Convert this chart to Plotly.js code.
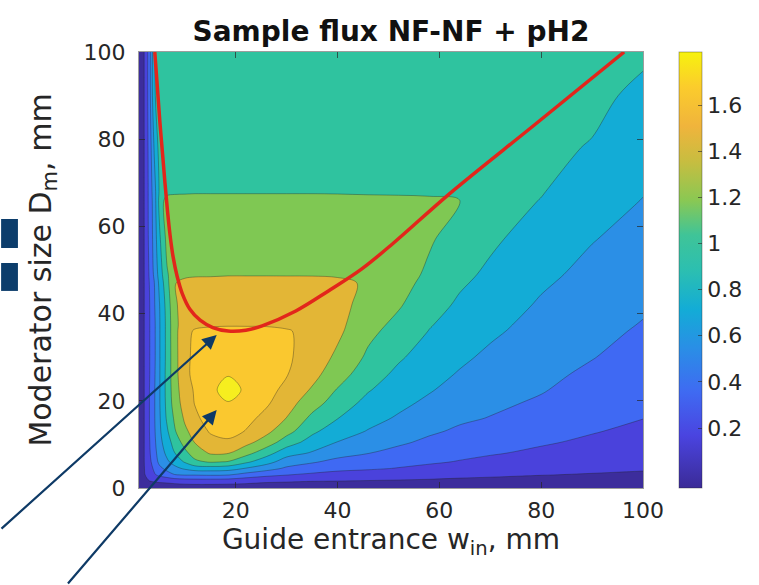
<!DOCTYPE html>
<html>
<head>
<meta charset="utf-8">
<script src="https://cdn.plot.ly/plotly-3.0.1.min.js"></script>
<style>html,body{margin:0;padding:0;background:#fff;}#chart{width:759px;height:585px;}</style>
</head>
<body>
<div id="chart"></div>
<script>
// Guide entrance width w_in (mm) - grid columns
const wIn = [1, 2, 3, 4, 5, 6.5, 8, 10, 12, 15, 18.5, 22, 26, 30, 35, 40, 46, 52, 58, 64, 70, 80, 90, 100];
// Moderator size D_m (mm) - grid rows
const dMod = [0, 1.5, 3, 4.5, 6, 8, 10.5, 13, 16, 19.5, 22.5, 26, 30, 36, 37.4, 42, 47, 49, 57, 66, 68, 78, 90, 100];
// Sample flux values (one row per D_m value)
const flux = [
  [0,0,0,0,0,0,0,0,0,0,0,0,0,0,0,0,0,0,0,0,0,0,0,0],
  [0,.06,.09,.11,.12,.13,.15,.17,.18,.18,.17,.15,.12,.11,.097,.091,.083,.077,.071,.064,.06,.052,.045,.04],
  [0,.08,.18,.28,.34,.41,.49,.51,.51,.52,.51,.42,.35,.305,.26,.23,.204,.179,.158,.134,.121,.103,.091,.081],
  [0,.09,.22,.33,.45,.56,.65,.73,.80,.81,.79,.69,.58,.47,.41,.35,.326,.292,.255,.212,.185,.151,.128,.113],
  [0,.095,.25,.38,.55,.67,.77,.92,1.06,1.12,1.09,.94,.78,.60,.52,.45,.397,.358,.325,.29,.249,.198,.162,.139],
  [0,.095,.27,.42,.60,.74,.895,1.05,1.19,1.32,1.31,1.17,.98,.78,.68,.565,.505,.442,.386,.346,.318,.262,.208,.172],
  [0,.095,.28,.45,.64,.80,.99,1.17,1.31,1.43,1.46,1.36,1.21,1.0,.82,.695,.594,.53,.463,.406,.373,.322,.266,.214],
  [0,.095,.29,.47,.66,.87,1.08,1.26,1.38,1.52,1.58,1.49,1.35,1.17,.94,.79,.689,.597,.527,.472,.427,.364,.312,.256],
  [0,.095,.29,.48,.67,.93,1.13,1.33,1.46,1.58,1.64,1.56,1.44,1.295,1.05,.905,.764,.678,.59,.529,.493,.415,.347,.303],
  [0,.095,.29,.48,.68,.96,1.19,1.39,1.51,1.62,1.69,1.63,1.53,1.38,1.19,1.0,.846,.746,.662,.583,.538,.475,.388,.334],
  [0,.095,.29,.48,.68,.97,1.21,1.42,1.52,1.65,1.78,1.67,1.58,1.44,1.28,1.086,.914,.797,.716,.63,.574,.513,.424,.36],
  [0,.095,.28,.47,.68,.97,1.23,1.44,1.56,1.65,1.69,1.67,1.62,1.51,1.36,1.186,.985,.856,.762,.684,.616,.543,.465,.391],
  [0,.095,.28,.46,.68,.96,1.24,1.43,1.56,1.63,1.66,1.65,1.62,1.53,1.41,1.263,1.066,.924,.815,.734,.664,.577,.507,.426],
  [0,.095,.28,.46,.68,.96,1.25,1.41,1.53,1.58,1.61,1.60,1.58,1.52,1.43,1.34,1.15,1.024,.895,.803,.732,.628,.552,.478],
  [0,.095,.28,.46,.68,.96,1.25,1.39,1.44,1.46,1.47,1.47,1.47,1.46,1.43,1.35,1.17,1.048,.913,.819,.746,.64,.562,.49],
  [0,.095,.28,.48,.69,.98,1.27,1.38,1.42,1.45,1.46,1.46,1.46,1.45,1.43,1.37,1.22,1.12,.975,.871,.795,.679,.596,.525],
  [0,.095,.295,.495,.74,1.04,1.29,1.36,1.37,1.38,1.44,1.44,1.44,1.43,1.42,1.37,1.26,1.17,1.042,.923,.847,.723,.633,.56],
  [0,.095,.31,.54,.78,1.08,1.20,1.25,1.27,1.27,1.27,1.27,1.27,1.27,1.27,1.26,1.23,1.18,1.069,.942,.868,.742,.648,.574],
  [0,.095,.34,.58,.86,1.16,1.22,1.25,1.26,1.26,1.26,1.26,1.26,1.26,1.26,1.26,1.22,1.19,1.12,1.02,.93,.816,.708,.631],
  [0,.095,.35,.60,.95,1.20,1.22,1.24,1.25,1.25,1.25,1.25,1.25,1.25,1.25,1.25,1.20,1.18,1.15,1.10,.98,.895,.782,.695],
  [0,.095,.35,.62,.92,1.01,1.04,1.04,1.05,1.05,1.05,1.05,1.05,1.05,1.05,1.04,1.04,1.04,1.04,1.02,.985,.91,.798,.709],
  [0,.095,.36,.72,.97,1.01,1.03,1.04,1.04,1.04,1.04,1.04,1.04,1.04,1.04,1.03,1.03,1.03,1.03,1.02,.99,.935,.89,.779],
  [0,.095,.38,.88,.98,1.02,1.03,1.03,1.03,1.03,1.03,1.03,1.03,1.03,1.03,1.02,1.02,1.02,1.02,1.01,1.0,.95,.94,.862],
  [0,.095,.38,.88,.99,1.02,1.03,1.03,1.03,1.03,1.03,1.03,1.03,1.03,1.03,1.02,1.01,1.01,1.01,1.0,1.0,.96,.97,.93]
];
// Optimum moderator size curve (red line)
const optW = [4.1, 4.6, 5.1, 5.6, 6.1, 6.6, 7.1, 7.7, 8.5, 9.5, 11.0, 13.0, 15.5, 18.5, 22.0, 25.2, 31.8, 38.2, 44.7, 51.0, 62.2, 78.6, 96.3];
const optD = [100, 92, 84, 77, 70, 63.5, 58, 53, 48.5, 44.6, 41.0, 38.5, 36.8, 36.0, 36.2, 37.2, 40.6, 45.2, 50.2, 56.2, 67.7, 83.2, 100];
// Contour levels
const levelStart = 0.1, levelEnd = 1.7, levelStep = 0.2;
const bandColors = ['#3c2d9c','#4a42dc','#3f69f3','#2b8fe6','#13acd6','#2fc39f','#7fc853','#e3b636','#fac82f','#f6ee1f'];
// Colour bar
const cbarMin = -0.06, cbarMax = 1.83;
const cbarTickVals = [0.2, 0.4, 0.6, 0.8, 1, 1.2, 1.4, 1.6];
const cbarTickText = ['0.2','0.4','0.6','0.8','1','1.2','1.4','1.6'];
const xTickVals = [20, 40, 60, 80, 100];
const yTickVals = [0, 20, 40, 60, 80, 100];

const parula = [[0,'#3b2b97'],[0.12,'#4a44e0'],[0.22,'#3f6af2'],[0.32,'#2a8ee6'],[0.41,'#13acd6'],[0.5,'#2cbfb0'],[0.58,'#3fc498'],[0.66,'#8ac853'],[0.75,'#c8bd40'],[0.83,'#f0b43c'],[0.92,'#fbcc2c'],[1,'#f7f20e']];

const nb = bandColors.length - 1;
const bandScale = bandColors.map((c, k) => [k / nb, c]);

const contourTrace = {
  type: 'contour', x: wIn, y: dMod, z: flux,
  autocontour: false,
  contours: {start: levelStart, end: levelEnd, size: levelStep, coloring: 'fill', showlines: true},
  colorscale: bandScale, showscale: false,
  line: {color: 'rgba(35,35,35,0.45)', width: 0.8, smoothing: 1},
  hoverinfo: 'skip'
};
const redTrace = {
  type: 'scatter', mode: 'lines', x: optW, y: optD,
  line: {color: '#e2261b', width: 3.5, shape: 'spline', smoothing: 1},
  hoverinfo: 'skip', showlegend: false
};
const cbarTrace = {
  type: 'scatter', mode: 'markers', x: [null, null], y: [null, null],
  marker: {color: [cbarMin, cbarMax], cmin: cbarMin, cmax: cbarMax, colorscale: parula, showscale: true,
    colorbar: {x: 1.0709, xanchor: 'left', y: 0.5, yanchor: 'middle', len: 1, lenmode: 'fraction',
      thickness: 23, thicknessmode: 'pixels', xpad: 0, ypad: 0,
      outlinewidth: 0.8, outlinecolor: 'rgba(38,38,38,0.45)',
      tickmode: 'array', tickvals: cbarTickVals, ticktext: cbarTickText,
      ticks: 'inside', ticklen: 4, tickcolor: 'rgba(38,38,38,0.6)',
      tickfont: {size: 22, color: '#262626', family: 'DejaVu Sans'}}},
  hoverinfo: 'skip', showlegend: false
};

const axisCommon = {
  ticks: 'inside', ticklen: 6, tickwidth: 1, tickcolor: 'rgba(38,38,38,0.7)',
  showline: true, linecolor: 'rgba(38,38,38,0.45)', linewidth: 1, mirror: 'ticks',
  showgrid: false, zeroline: false,
  tickfont: {size: 22, color: '#262626', family: 'DejaVu Sans'},
  fixedrange: true
};

const layout = {
  width: 759, height: 585,
  margin: {l: 139, r: 112, t: 52, b: 97, pad: 0},
  paper_bgcolor: '#fff', plot_bgcolor: '#fff',
  font: {family: 'DejaVu Sans', color: '#262626'},
  showlegend: false,
  title: {text: '<b>Sample flux NF-NF + pH2</b>', font: {size: 28, color: '#111', family: 'DejaVu Sans'},
    xref: 'paper', x: 0.5, xanchor: 'center', yref: 'container', y: 1 - 31/585, yanchor: 'middle'},
  xaxis: Object.assign({}, axisCommon, {range: [1, 100], tickmode: 'array', tickvals: xTickVals,
    ticklabelstandoff: 3,
    title: {text: 'Guide entrance w<sub>in</sub>, mm', font: {size: 28, color: '#262626'}, standoff: 3}}),
  yaxis: Object.assign({}, axisCommon, {range: [0, 100], tickmode: 'array', tickvals: yTickVals,
    ticklabelstandoff: 8,
    title: {text: 'Moderator size D<sub>m</sub>, mm', font: {size: 30, color: '#262626'}, standoff: 23}}),
  shapes: [
    {type: 'rect', xref: 'paper', yref: 'paper', x0: -0.2736, x1: -0.2402, y0: 0.5505, y1: 0.617,
      fillcolor: '#0c3d6b', line: {width: 0}},
    {type: 'rect', xref: 'paper', yref: 'paper', x0: -0.2736, x1: -0.2402, y0: 0.452, y1: 0.516,
      fillcolor: '#0c3d6b', line: {width: 0}}
  ],
  annotations: [
    {x: 16.26, y: 35.1, xref: 'x', yref: 'y', text: '', showarrow: true, ax: -217, ay: 195,
      arrowhead: 2, arrowsize: 1.3, arrowwidth: 2.2, arrowcolor: '#0e3a66', standoff: 0},
    {x: 16.26, y: 17.9, xref: 'x', yref: 'y', text: '', showarrow: true, ax: -150, ay: 175,
      arrowhead: 2, arrowsize: 1.3, arrowwidth: 2.2, arrowcolor: '#0e3a66', standoff: 0}
  ]
};

Plotly.newPlot('chart', [contourTrace, redTrace, cbarTrace], layout, {displayModeBar: false, staticPlot: true});
</script>
</body>
</html>
